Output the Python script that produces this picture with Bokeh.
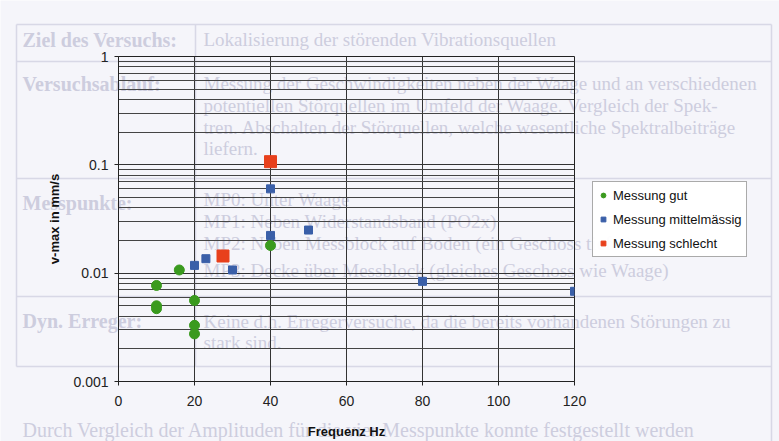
from bokeh.plotting import figure
from bokeh.layouts import column
from bokeh.models import Legend, LegendItem, FixedTicker
from bokeh.core.properties import value
from bokeh.embed import file_html
from bokeh.resources import INLINE

# data
gut_x = [10, 10, 10, 16, 20, 20, 20, 40]
gut_y = [0.0077, 0.0050, 0.0047, 0.0107, 0.0056, 0.0033, 0.00275, 0.018]
mittel_x = [20, 23, 30, 40, 40, 50, 80, 120]
mittel_y = [0.0118, 0.0136, 0.0107, 0.0223, 0.060, 0.025, 0.0084, 0.0068]
schlecht_x = [40, 27.5]
schlecht_y = [0.107, 0.0144]
series_names = ["Messung gut", "Messung mittelmässig", "Messung schlecht"]
x_ticks = [0, 20, 40, 60, 80, 100, 120]
y_ticks = [0.001, 0.01, 0.1, 1]
y_tick_labels = {0.001: "0.001", 0.01: "0.01", 0.1: "0.1", 1: "1"}

# faint scanned document behind the chart (decoration)
doc_left = ["Ziel des Versuchs:", "Versuchsablauf:", "Messpunkte:", "Dyn. Erreger:"]
doc_left_y = [39, 83, 202, 320]
doc_right = ["Lokalisierung der störenden Vibrationsquellen",
             "Messung der Geschwindigkeiten neben der Waage und an verschiedenen",
             "potentiellen Störquellen im Umfeld der Waage. Vergleich der Spek-",
             "tren. Abschalten der Störquellen, welche wesentliche Spektralbeiträge",
             "liefern.",
             "MP0: Unter Waage",
             "MP1: Neben Widerstandsband (PO2x)",
             "MP2: Neben Messblock auf Boden (ein Geschoss tiefer)",
             "MP3: Decke über Messblock (gleiches Geschoss wie Waage)",
             "Keine d.h. Erregerversuche, da die bereits vorhandenen Störungen zu",
             "stark sind."]
doc_right_y = [39, 83, 105, 127, 148, 199, 221, 243, 270, 321, 342]
doc_bottom = "Durch Vergleich der Amplituden für die vier Messpunkte konnte festgestellt werden"

BG = "#f5f5fa"
DOC = "#cdcdde"
W, H = 779, 441
GREEN, BLUE, RED = "#3a9a1e", "#3a5fa8", "#e8401c"

bg = figure(width=W, height=H, output_backend="svg", toolbar_location=None,
            x_range=(0, W), y_range=(H, 0), min_border=0,
            x_axis_location=None, y_axis_location=None,
            background_fill_color=BG, border_fill_color=BG, outline_line_color=None)
bg.frame_align = False
bg.grid.visible = False
bg.text(x=[22] * len(doc_left), y=doc_left_y, text=doc_left, text_font=value("Liberation Serif"),
        text_font_size=value("20px"), text_font_style="bold", text_color=DOC, text_baseline="middle")
bg.text(x=[203] * len(doc_right), y=doc_right_y, text=doc_right, text_font=value("Liberation Serif"),
        text_font_size=value("19px"), text_color=DOC, text_baseline="middle")
bg.text(x=[22], y=[429], text=[doc_bottom], text_font=value("Liberation Serif"),
        text_font_size=value("20px"), text_color=DOC, text_baseline="middle")
bg.segment(x0=[16, 16, 16, 16, 16, 16, 771, 195], y0=[24, 61, 178, 296, 366, 24, 24, 24],
           x1=[771, 771, 771, 771, 771, 16, 771, 195], y1=[24, 61, 178, 296, 366, 366, 441, 366],
           line_color="#d8d8e6", line_width=1.5)

# legend swatches: one hidden sample each (outside the visible range), carrying the series styles
l1 = bg.scatter(x=[-100], y=[-100], marker="circle", size=8, fill_color=GREEN, line_color=GREEN)
l2 = bg.scatter(x=[-100], y=[-100], marker="square", size=7, fill_color=BLUE, line_color=BLUE)
l3 = bg.scatter(x=[-100], y=[-100], marker="square", size=12, fill_color=RED, line_color=RED)
legend = Legend(items=[LegendItem(label=series_names[0], renderers=[l1]),
                       LegendItem(label=series_names[1], renderers=[l2]),
                       LegendItem(label=series_names[2], renderers=[l3])],
                location=(592, 184), orientation="vertical",
                label_text_font="Liberation Sans", label_text_font_size="13px",
                label_text_color="#111111",
                glyph_width=12, glyph_height=18, label_height=18, spacing=6,
                padding=4, margin=0, label_standoff=4,
                border_line_color="#555555", border_line_width=1,
                background_fill_color="#ffffff", background_fill_alpha=0.95)
bg.add_layout(legend, "center")

p = figure(width=W, height=H, output_backend="svg", toolbar_location=None,
           x_range=(0, 120), y_range=(0.001, 1), y_axis_type="log",
           min_border_left=118, min_border_right=205, min_border_top=56, min_border_bottom=60,
           background_fill_alpha=0, border_fill_alpha=0, outline_line_color="#222222")
p.frame_align = False
p.styles = {"margin-top": "-441px"}

p.xgrid.ticker = FixedTicker(ticks=x_ticks)
p.xgrid.grid_line_color = "#333333"
p.ygrid.grid_line_color = "#333333"
p.ygrid.minor_grid_line_color = "#444444"

p.xaxis.ticker = FixedTicker(ticks=x_ticks)
p.yaxis.ticker = FixedTicker(ticks=y_ticks,
                             minor_ticks=[m * d for d in [0.001, 0.01, 0.1] for m in range(2, 10)])
p.yaxis.major_label_overrides = y_tick_labels
for ax in (p.xaxis[0], p.yaxis[0]):
    ax.axis_line_color = "#222222"
    ax.major_tick_line_color = "#222222"
    ax.minor_tick_line_color = None
    ax.major_tick_in = 0
    ax.major_tick_out = 4
    ax.major_label_text_font = "Liberation Sans"
    ax.major_label_text_font_size = "14px"
    ax.major_label_text_color = "#222222"
    ax.axis_label_text_font = "Liberation Sans"
    ax.axis_label_text_font_size = "13px"
    ax.axis_label_text_font_style = "bold"
    ax.axis_label_text_color = "#111111"
p.xaxis.axis_label = "Frequenz Hz"
p.yaxis.axis_label = "v-max in mm/s"
p.xaxis.major_label_standoff = 10
p.xaxis.axis_label_standoff = 15
p.yaxis.major_label_standoff = 6
p.yaxis.axis_label_standoff = 8

p.scatter(gut_x, gut_y, marker="circle", size=10, fill_color=GREEN, line_color=GREEN)
p.scatter(mittel_x, mittel_y, marker="square", size=8, fill_color=BLUE, line_color=BLUE)
p.scatter(schlecht_x, schlecht_y, marker="square", size=12, fill_color=RED, line_color=RED)

layout = column(bg, p, spacing=0)
open("out.html", "w").write(file_html(layout, INLINE))
